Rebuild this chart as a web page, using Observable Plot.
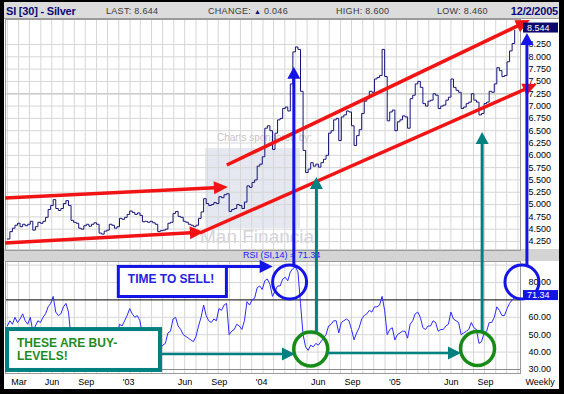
<!DOCTYPE html>
<html><head><meta charset="utf-8">
<script src="https://cdn.jsdelivr.net/npm/d3@7"></script>
<script src="https://cdn.jsdelivr.net/npm/@observablehq/plot@0.6"></script>
<style>
html,body{margin:0;padding:0;background:#000;}
#wrap{position:relative;width:564px;height:394px;background:#000;overflow:hidden;font-family:"Liberation Sans",Arial,sans-serif;}
.abs{position:absolute;}
#header{left:4px;top:2px;width:555px;height:16px;background:#dcdcdc;border-bottom:1px solid #9a9a9a;}
.h{position:absolute;top:0;line-height:18px;font-size:9px;color:#3a3a3a;letter-spacing:0.3px;white-space:nowrap;}
.hb{font-weight:bold;font-size:11px;color:#0a0a78;letter-spacing:-0.2px;}
#paper{left:4px;top:19px;width:555px;height:370px;background:#fff;}
#band{left:4px;top:249px;width:555px;height:12px;background:#d4d4d4;}
#wm{left:5px;top:19px;width:515px;height:230px;overflow:hidden;}
.logo{position:absolute;left:200px;top:129px;width:95px;height:80px;background:#e6e8f1;}
.wt1{position:absolute;left:212px;top:113px;font-size:10px;color:#c4c4c4;white-space:nowrap;}
.wt2{position:absolute;left:195px;top:207px;font-size:19px;line-height:22px;color:#d4d4dc;white-space:nowrap;}
</style></head>
<body>
<div id="wrap">
  <div id="header" class="abs">
    <span class="h hb" style="left:2px">SI [30] - Silver</span>
    <span class="h" style="left:102px">LAST: 8.644</span>
    <span class="h" style="left:204px">CHANGE: <span style="color:#0a0a78;font-size:7px">▲</span> 0.046</span>
    <span class="h" style="left:332px">HIGH: 8.600</span>
    <span class="h" style="left:433px">LOW: 8.460</span>
    <span class="h hb" style="right:1px">12/2/2005</span>
  </div>
  <div id="paper" class="abs"></div>
  <div id="wm" class="abs"><div class="logo"></div><div class="wt1">Charts sponsored by:</div><div class="wt2">Man Financial</div></div>
  <div id="band" class="abs"></div>
  <div id="pricebox" class="abs" style="left:0;top:19px"></div>
  <div id="rsibox" class="abs" style="left:0;top:261px"></div>
  <svg id="overlay" class="abs" width="564" height="394" style="left:0;top:0;overflow:visible"></svg>
</div>
<script>
// ---- data (weekly closes) ----
const firstWeek = "2002-03-01";
const closes = [
4.30,4.45,4.52,4.58,4.62,4.55,4.60,4.57,4.60,4.66,
4.48,4.55,4.64,4.62,4.66,4.74,4.90,4.98,5.10,4.92,
4.88,4.92,5.02,5.08,4.98,4.68,4.64,4.62,4.52,4.50,
4.57,4.60,4.56,4.60,4.63,4.60,4.42,4.40,4.46,4.48,
4.60,4.58,4.52,4.55,4.72,4.70,4.74,4.80,4.87,4.84,
4.80,4.83,4.78,4.65,4.66,4.64,4.66,4.63,4.60,4.45,
4.47,4.48,4.50,4.62,4.64,4.82,4.86,4.76,4.74,4.66,
4.64,4.60,4.58,4.55,4.58,4.72,4.85,5.12,5.02,4.98,
5.00,5.04,5.02,5.16,5.14,5.20,5.22,4.86,4.90,4.92,
5.00,4.98,4.92,5.05,5.38,5.35,5.45,5.50,5.78,5.82,
5.97,6.55,6.60,6.50,6.12,6.45,6.72,6.75,6.95,6.98,
6.90,7.45,8.10,8.20,8.15,7.30,6.10,5.65,5.72,5.85,
5.78,5.82,5.76,5.85,5.92,6.00,6.45,6.50,6.72,6.75,
6.30,6.78,6.82,6.90,6.88,6.60,6.20,6.40,6.52,6.85,
7.10,7.15,7.30,7.28,7.55,7.58,7.62,8.15,7.60,6.70,
6.88,6.92,6.50,6.68,6.72,6.80,6.78,6.55,7.15,7.22,
7.45,7.50,7.38,7.05,7.00,7.10,7.12,7.25,7.22,6.95,
7.00,7.02,7.12,7.18,7.55,7.38,7.32,7.28,6.95,6.98,
7.05,7.08,7.25,7.12,7.08,6.82,6.85,7.05,7.08,7.30,
7.28,7.45,7.78,7.72,7.60,7.62,7.90,8.12,8.27,8.54];
const rsiValues = [
55,58,56,60,57,59,62,58,56,60,
52,55,58,57,60,62,66,68,72,63,
61,62,66,68,63,48,47,46,42,41,
45,47,45,47,49,47,40,39,43,44,
50,49,46,48,56,55,58,61,65,62,
60,61,58,50,51,50,51,49,48,41,
42,44,45,51,52,59,60,55,53,50,
49,48,47,46,49,55,60,67,61,58,
57,59,58,65,64,67,68,50,52,53,
56,55,53,58,69,67,70,71,77,78,
76,81,82,79,72,75,78,78,82,83,
81,86,88,89,86,68,50,43,41,44,
43,45,44,46,48,50,55,56,58,58,
51,57,58,59,58,53,47,51,54,59,
61,62,64,63,66,66,67,72,64,50,
53,54,47,50,51,52,52,48,56,58,
62,63,60,54,53,55,55,58,57,52,
53,53,55,56,63,59,58,57,50,51,
52,53,57,54,53,45,46,51,52,57,
57,60,66,64,61,61,65,68,70,71.34];
const lastPrice = 8.544;
const lastRsi = 71.34;
const priceTicks = [4.25,4.5,4.75,5,5.25,5.5,5.75,6,6.25,6.5,6.75,7,7.25,7.5,7.75,8,8.25];
const rsiTicks = [30,40,50,60,80];
const rsiGrid = [40,50,60,80,90];
const tickDates = ["2002-03-01","2002-06-01","2002-09-01","2003-01-01","2003-06-01","2003-09-01","2004-01-01","2004-06-01","2004-09-01","2005-01-01","2005-06-01","2005-09-01"];
const tickLabels = ["Mar","Jun","Sep","'03","Jun","Sep","'04","Jun","Sep","'05","Jun","Sep"];

// annotations in data coordinates
const channelArrows = [
  {d1:"2002-02-24", p1:5.123, d2:"2003-10-29", p2:5.346},
  {d1:"2002-02-24", p1:4.209, d2:"2003-08-24", p2:4.433},
  {d1:"2003-10-26", p1:5.793, d2:"2006-02-04", p2:8.737},
  {d1:"2003-08-13", p1:4.412, d2:"2006-02-23", p2:7.438}];
const sellArrows = [
  {date:"2004-04-27", rsi:88.6, price:7.789},
  {date:"2006-01-27", rsi:89.8, price:8.473}];
const buyArrows = [
  {date:"2004-06-28", rsi:51.3, price:5.549},
  {date:"2005-09-26", rsi:51.8, price:6.463}];
const sellCircles = [{date:"2004-04-14", rsi:80.3},{date:"2006-01-12", rsi:80.3}];
const buyCircles = [{date:"2004-06-11", rsi:41.8},{date:"2005-09-12", rsi:42.1}];
const sellLink = {d1:"2003-10-29", d2:"2004-02-29", rsi:89.8};
const buyLinks = [{d1:"2003-05-01", d2:"2004-04-30", rsi:38.6},{d1:"2004-07-30", d2:"2005-07-30", rsi:39.2}];
const sellBox = {d1:"2002-12-28", d2:"2003-10-29", top:89.8, bottom:70.8, text:["TIME TO SELL!"]};
const buyBox = {d1:"2002-02-24", d2:"2003-05-01", top:54.1, bottom:28.3, text:["THESE ARE BUY-","LEVELS!"]};

// ---- build ----
const D = s => new Date(s);
const start = D(firstWeek);
const weeks = closes.map((_, i) => d3.utcDay.offset(start, 7 * i));
const priceData = closes.map((c, i) => ({date: weeks[i], close: c}));
const rsiData = rsiValues.map((r, i) => ({date: weeks[i], rsi: r}));
const xDomain = [D("2002-02-24"), D("2006-01-08")];
const months = d3.utcMonth.range(D("2002-03-01"), xDomain[1]);
const xLabelData = tickDates.map((d, i) => ({date: D(d), label: tickLabels[i]}));
const grid = "#d6d6d6";
const font = "Liberation Sans, Arial, sans-serif";

const priceChart = Plot.plot({
  width: 564, height: 231, marginLeft: 5, marginRight: 44, marginTop: 0, marginBottom: 0,
  style: {background: "transparent", overflow: "visible", fontFamily: font, fontSize: "9px", color: "#000"},
  x: {type: "utc", domain: xDomain, axis: null},
  y: {domain: [4.067, 8.758], axis: "right", ticks: priceTicks, tickFormat: d3.format(".3f"), tickSize: 0, tickPadding: 8, label: null},
  marks: [
    Plot.ruleX(months, {stroke: grid}),
    Plot.ruleY(priceTicks, {stroke: grid}),
    Plot.ruleY([7.25], {stroke: "#cccccc", strokeWidth: 1.5}),
    Plot.frame({stroke: "#9a9a9a"}),
    Plot.line(priceData, {x: "date", y: "close", curve: "step-after", stroke: "#14147a", strokeWidth: 1})
  ]
});
document.getElementById("pricebox").appendChild(priceChart);

const rsiChart = Plot.plot({
  width: 564, height: 129, marginLeft: 5, marginRight: 44, marginTop: 0, marginBottom: 17,
  style: {background: "transparent", overflow: "visible", fontFamily: font, fontSize: "9px", color: "#000"},
  x: {type: "utc", domain: xDomain, axis: null},
  y: {domain: [27.7, 92.07], axis: "right", ticks: rsiTicks, tickFormat: d3.format(".2f"), tickSize: 0, tickPadding: 8, label: null},
  marks: [
    Plot.ruleX(months, {stroke: grid}),
    Plot.ruleY(rsiGrid, {stroke: grid}),
    Plot.ruleY([30], {stroke: "#8a8a8a"}),
    Plot.ruleY([70], {stroke: "#000"}),
    Plot.frame({stroke: "#9a9a9a"}),
    Plot.line(rsiData, {x: "date", y: "rsi", stroke: "#2b2bff", strokeWidth: 1}),
    Plot.dot(sellCircles, {x: d => D(d.date), y: "rsi", r: 17, stroke: "#1414e6", strokeWidth: 3, fill: "none"}),
    Plot.dot(buyCircles, {x: d => D(d.date), y: "rsi", r: 17, stroke: "#168c16", strokeWidth: 3.5, fill: "none"}),
    Plot.text(xLabelData, {x: "date", text: "label", frameAnchor: "bottom", textAnchor: "start", dx: 4, dy: 11, fontSize: 9, fill: "#000"}),
    Plot.text(["Weekly"], {text: d => d, frameAnchor: "bottom-right", textAnchor: "start", dx: 5, dy: 11, fontSize: 9, fill: "#000"})
  ]
});
document.getElementById("rsibox").appendChild(rsiChart);

// scale helpers (library scales)
function fn(plot, name) {
  const s = plot.scale(name);
  if (s && typeof s.apply === "function") return v => s.apply(v);
  const sc = (s.type === "utc" ? d3.scaleUtc() : d3.scaleLinear()).domain(s.domain).range(s.range);
  return v => sc(v);
}
const X = (d) => fn(priceChart, "x")(D(d));
const PY = (v) => 19 + fn(priceChart, "y")(v);
const RY = (v) => 261 + fn(rsiChart, "y")(v);

const ov = d3.select("#overlay");
function arrow(x1, y1, x2, y2, color, w, len, half) {
  const dx = x2 - x1, dy = y2 - y1, L = Math.hypot(dx, dy), ux = dx / L, uy = dy / L;
  const bx = x2 - ux * len, by = y2 - uy * len;
  ov.append("line").attr("x1", x1).attr("y1", y1).attr("x2", bx + ux).attr("y2", by + uy)
    .attr("stroke", color).attr("stroke-width", w);
  ov.append("path").attr("d", `M${x2},${y2}L${bx - uy * half},${by + ux * half}L${bx + uy * half},${by - ux * half}Z`)
    .attr("fill", color);
}
const RED = "#f21414", BLUE = "#1414e6", TEAL = "#008080", GREEN = "#168c16";

channelArrows.forEach(a => arrow(X(a.d1), PY(a.p1), X(a.d2), PY(a.p2), RED, 3.5, 14, 6.5));

// RSI label in band
ov.append("text").attr("x", 243).attr("y", 255).attr("dy", "0.35em").attr("font-size", 9)
  .attr("font-family", font).attr("fill", "#2020ff").text("RSI (SI,14) = " + lastRsi.toFixed(2));

sellArrows.forEach(a => arrow(X(a.date), RY(a.rsi), X(a.date), PY(a.price), BLUE, 3, 12, 6.5));
buyArrows.forEach(a => arrow(X(a.date), RY(a.rsi), X(a.date), PY(a.price), TEAL, 3, 12, 6.5));

// boxes
function box(b, color, w, textColor, tx, ty, lh) {
  const x1 = X(b.d1), x2 = X(b.d2), y1 = RY(b.top), y2 = RY(b.bottom);
  ov.append("rect").attr("x", x1 + w / 2).attr("y", y1 + w / 2).attr("width", x2 - x1 - w).attr("height", y2 - y1 - w)
    .attr("fill", "#fff").attr("stroke", color).attr("stroke-width", w);
  b.text.forEach((t, i) => ov.append("text").attr("x", x1 + tx).attr("y", y1 + ty + i * lh)
    .attr("font-family", font).attr("font-weight", "bold").attr("font-size", 12).attr("fill", textColor).text(t));
}
box(sellBox, BLUE, 3, "#2323dd", 11, 18, 0);
arrow(X(sellLink.d1) - 1.5, RY(sellLink.rsi) + 1.5, X(sellLink.d2), RY(sellLink.rsi) + 1.5, BLUE, 3, 13, 6.5);
box(buyBox, TEAL, 4, "#1e8c1e", 12, 20, 12.5);
buyLinks.forEach(l => arrow(X(l.d1), RY(l.rsi), X(l.d2), RY(l.rsi), TEAL, 2.6, 13, 6.5));

// last value boxes
function valueBox(y, fill, label) {
  ov.append("rect").attr("x", 523).attr("y", y - 5).attr("width", 35).attr("height", 10).attr("fill", fill);
  ov.append("text").attr("x", 527).attr("y", y).attr("dy", "0.35em").attr("font-size", 9).attr("font-family", font)
    .attr("fill", "#fff").text(label);
}
valueBox(PY(lastPrice) - 2, "#0a0a6e", lastPrice.toFixed(3));
valueBox(RY(lastRsi) - 2, BLUE, lastRsi.toFixed(2));
</script>
</body></html>
